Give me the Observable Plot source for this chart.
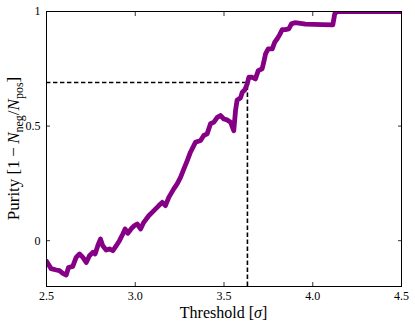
<!DOCTYPE html>
<html><head><meta charset="utf-8">
<script src="https://cdn.jsdelivr.net/npm/d3@7"></script>
<script src="https://cdn.jsdelivr.net/npm/@observablehq/plot@0.6"></script>
<style>html,body{margin:0;padding:0;background:#fff}svg{display:block}</style>
</head><body><div id="chart"></div>
<script>
const thresholds = [2.5, 2.526, 2.555, 2.573, 2.592, 2.611, 2.624, 2.648, 2.667, 2.686,
  2.705, 2.724, 2.742, 2.761, 2.774, 2.789, 2.804, 2.817, 2.836, 2.855,
  2.874, 2.893, 2.911, 2.930, 2.943, 2.958, 2.981, 2.996, 3.011, 3.030,
  3.048, 3.076, 3.105, 3.133, 3.152, 3.170, 3.189, 3.217, 3.236, 3.255,
  3.274, 3.293, 3.311, 3.339, 3.368, 3.386, 3.405, 3.424, 3.443, 3.462,
  3.480, 3.499, 3.518, 3.537, 3.555, 3.565, 3.574, 3.593, 3.603, 3.617,
  3.631, 3.640, 3.659, 3.677, 3.693, 3.715, 3.724, 3.734, 3.749, 3.772,
  3.786, 3.800, 3.813, 3.828, 3.846, 3.865, 3.880, 3.899, 3.921, 3.959,
  4.053, 4.113, 4.124, 4.138, 4.5];
const purity = [-0.09, -0.122, -0.128, -0.131, -0.143, -0.150, -0.117, -0.112, -0.073, -0.058,
  -0.073, -0.095, -0.066, -0.051, -0.058, -0.022, 0.007, -0.022, -0.041, -0.036,
  -0.044, -0.022, 0.0, 0.029, 0.051, 0.032, 0.055, 0.066, 0.073, 0.051,
  0.080, 0.109, 0.131, 0.153, 0.167, 0.153, 0.189, 0.226, 0.248, 0.276,
  0.313, 0.349, 0.386, 0.429, 0.437, 0.459, 0.466, 0.510, 0.517, 0.538,
  0.546, 0.531, 0.527, 0.517, 0.480, 0.568, 0.614, 0.623, 0.648, 0.658,
  0.684, 0.713, 0.713, 0.706, 0.742, 0.750, 0.779, 0.815, 0.837, 0.837,
  0.866, 0.881, 0.898, 0.921, 0.921, 0.924, 0.946, 0.951, 0.949, 0.945,
  0.943, 0.942, 0.990, 1.0, 1.0];
const xTicks = [2.5, 3.0, 3.5, 4.0, 4.5];
const xTickLabels = ["2.5", "3.0", "3.5", "4.0", "4.5"];
const yTicks = [0, 0.5, 1];
const yTickLabels = ["0", "0.5", "1"];
const xDomain = [2.5, 4.5];
const yDomain = [-0.2, 1];
const cutThreshold = [3.632];
const cutPurity = [0.69];

const data = thresholds.map((t, i) => ({t, p: purity[i]}));
const W = 415, H = 327, mL = 46, mR = 14, mT = 11, mB = 41;
const dash = {stroke: "black", strokeWidth: 1.6, strokeDasharray: "4.4,2.6"};
const tickOpts = {tickSize: 4, fill: "none", label: null, stroke: "black", strokeWidth: 0.8};

const chart = Plot.plot({
  width: W, height: H,
  marginLeft: mL, marginRight: mR, marginTop: mT, marginBottom: mB,
  style: {fontFamily: "'Liberation Serif', serif", fontSize: "12px", background: "white", color: "black"},
  x: {domain: xDomain},
  y: {domain: yDomain},
  marks: [
    Plot.ruleY(cutPurity, {x1: xDomain[0], x2: cutThreshold[0], ...dash}),
    Plot.ruleX(cutThreshold, {y1: yDomain[0], y2: cutPurity[0], ...dash}),
    Plot.line(data, {x: "t", y: "p", stroke: "#850085", strokeWidth: 4.8, clip: true}),
    Plot.frame({stroke: "black", strokeWidth: 1}),
    Plot.axisX(xTicks, {anchor: "bottom", dy: -4, ...tickOpts}),
    Plot.axisX(xTicks, {anchor: "top", dy: 4, ...tickOpts}),
    Plot.axisY(yTicks, {anchor: "left", dx: 4, ...tickOpts}),
    Plot.axisY(yTicks, {anchor: "right", dx: -4, ...tickOpts}),
    Plot.axisX(xTicks, {anchor: "bottom", tickSize: 0, tickPadding: 5, label: null,
      tickFormat: d => xTickLabels[xTicks.indexOf(d)]}),
    Plot.axisY(yTicks, {anchor: "left", tickSize: 0, tickPadding: 6, label: null,
      tickFormat: d => yTickLabels[yTicks.indexOf(d)]})
  ]
});
document.getElementById("chart").appendChild(chart);

const svg = d3.select(chart);
const cx = mL + (W - mL - mR) / 2;
const cy = mT + (H - mT - mB) / 2;
const xl = svg.append("text")
  .attr("x", cx).attr("y", 318)
  .attr("text-anchor", "middle")
  .attr("font-family", "'Liberation Serif', serif").attr("font-size", 16).attr("fill", "black");
xl.append("tspan").text("Threshold [");
xl.append("tspan").attr("font-style", "italic").text("σ");
xl.append("tspan").text("]");

const yl = svg.append("text")
  .attr("transform", `translate(19,${cy}) rotate(-90)`)
  .attr("text-anchor", "middle")
  .attr("font-family", "'Liberation Serif', serif").attr("font-size", 17).attr("fill", "black");
yl.append("tspan").text("Purity [1\u2009\u2212\u2009");
yl.append("tspan").attr("font-style", "italic").text("N");
yl.append("tspan").attr("font-size", 12).attr("dy", 3.5).text("neg");
yl.append("tspan").attr("dy", -3.5).text("/");
yl.append("tspan").attr("font-style", "italic").text("N");
yl.append("tspan").attr("font-size", 12).attr("dy", 3.5).text("pos");
yl.append("tspan").attr("dy", -3.5).text("]");
</script>
</body></html>
